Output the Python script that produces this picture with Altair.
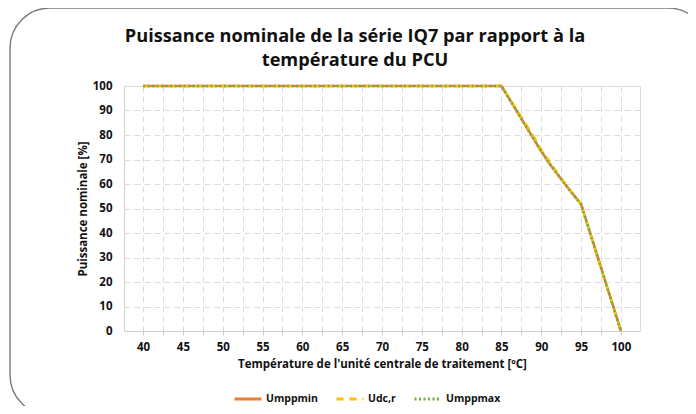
import altair as alt
import pandas as pd

temps = [40, 85, 86, 87, 88, 89, 90, 91, 92, 93, 94, 95, 96, 97, 98, 99, 100]
umppmin = [100, 100, 94.7, 89.4, 84.0, 78.7, 73.4, 68.5, 64.2, 59.9, 55.8, 51.8, 41.4, 31.1, 20.7, 10.4, 0]
udcr = [100, 100, 94.9, 89.9, 84.7, 79.6, 74.0, 69.3, 64.6, 60.1, 55.9, 51.8, 41.4, 31.1, 20.7, 10.4, 0]
umppmax = [100, 100, 94.6, 89.3, 83.9, 78.6, 73.3, 68.4, 64.1, 59.8, 55.7, 51.7, 41.4, 31.1, 20.7, 10.4, 0]
series = ["Umppmin", "Udc,r", "Umppmax"]
colors = ["#ED7D31", "#FFC000", "#70AD47"]
dashes = [[1, 0], [7, 6], [2, 2.5]]
x_ticks = [40 + 2.5 * i for i in range(25)]
y_ticks = list(range(0, 101, 10))

rows = []
for name, vals in zip(series, [umppmin, udcr, umppmax]):
    for t, v in zip(temps, vals):
        rows.append({"t": t, "p": v, "s": name})
df = pd.DataFrame(rows)

FONT = "Open Sans"

frame = alt.Chart(alt.Data(values=[{"a": 1}])).mark_rect(
    fill="transparent", stroke="#7a7a7a", strokeWidth=1.4, cornerRadius=40
).encode(
    x=alt.value(-114), x2=alt.value(584), y=alt.value(-78), y2=alt.value(329)
)

lines = alt.Chart(df).mark_line(strokeWidth=2.6, clip=False).encode(
    x=alt.X("t:Q", scale=alt.Scale(domain=[37.6, 102.4], nice=False, zero=False),
            axis=alt.Axis(values=x_ticks,
                          labelExpr="datum.value % 5 == 0 ? datum.label : ''",
                          title="Température de l'unité centrale de traitement [ºC]",
                          grid=True, gridDash=[6, 4], gridColor="#dcdcdc",
                          domainColor="#d0d0d0", tickColor="#d0d0d0", tickSize=4,
                          labelFont=FONT, labelFontWeight="bold", labelFontSize=11.5,
                          labelColor="#111", labelPadding=6,
                          titleFont=FONT, titleFontWeight="bold", titleFontSize=11.5,
                          titleColor="#111", titlePadding=6)),
    y=alt.Y("p:Q", scale=alt.Scale(domain=[0, 100], nice=False),
            axis=alt.Axis(values=y_ticks, title="Puissance nominale [%]",
                          grid=True, gridDash=[6, 4], gridColor="#dcdcdc",
                          domainColor="#d0d0d0", ticks=False,
                          labelFont=FONT, labelFontWeight="bold", labelFontSize=11.5,
                          labelColor="#111", labelPadding=12,
                          titleFont=FONT, titleFontWeight="bold", titleFontSize=11.5,
                          titleColor="#111", titlePadding=4)),
    color=alt.Color("s:N", scale=alt.Scale(domain=series, range=colors),
                    sort=series, title=None,
                    legend=alt.Legend(orient="none", legendX=109, legendY=298,
                                      direction="horizontal", symbolType="stroke",
                                      symbolSize=729, symbolStrokeWidth=3,
                                      labelFont=FONT, labelFontWeight="bold",
                                      labelFontSize=10.5, labelColor="#111",
                                      columnPadding=12, labelOffset=3)),
    strokeDash=alt.StrokeDash("s:N", scale=alt.Scale(domain=series, range=dashes),
                              sort=series, title=None),
    order=alt.Order("t:Q"),
)

chart = alt.layer(frame, lines).properties(
    width=516, height=245,
    autosize=alt.AutoSizeParams(type="none"),
    padding={"left": 116, "top": 78, "right": 48, "bottom": 75},
    title=alt.TitleParams(
        text=["Puissance nominale de la série IQ7 par rapport à la", "température du PCU"],
        font=FONT, fontSize=18.2, fontWeight="bold", color="#111",
        anchor="middle", dx=-27, offset=-63, lineHeight=24,
    ),
).configure_view(stroke=None).configure(background="white")

chart.save("out.html", embed_options={"renderer": "svg", "actions": False})
